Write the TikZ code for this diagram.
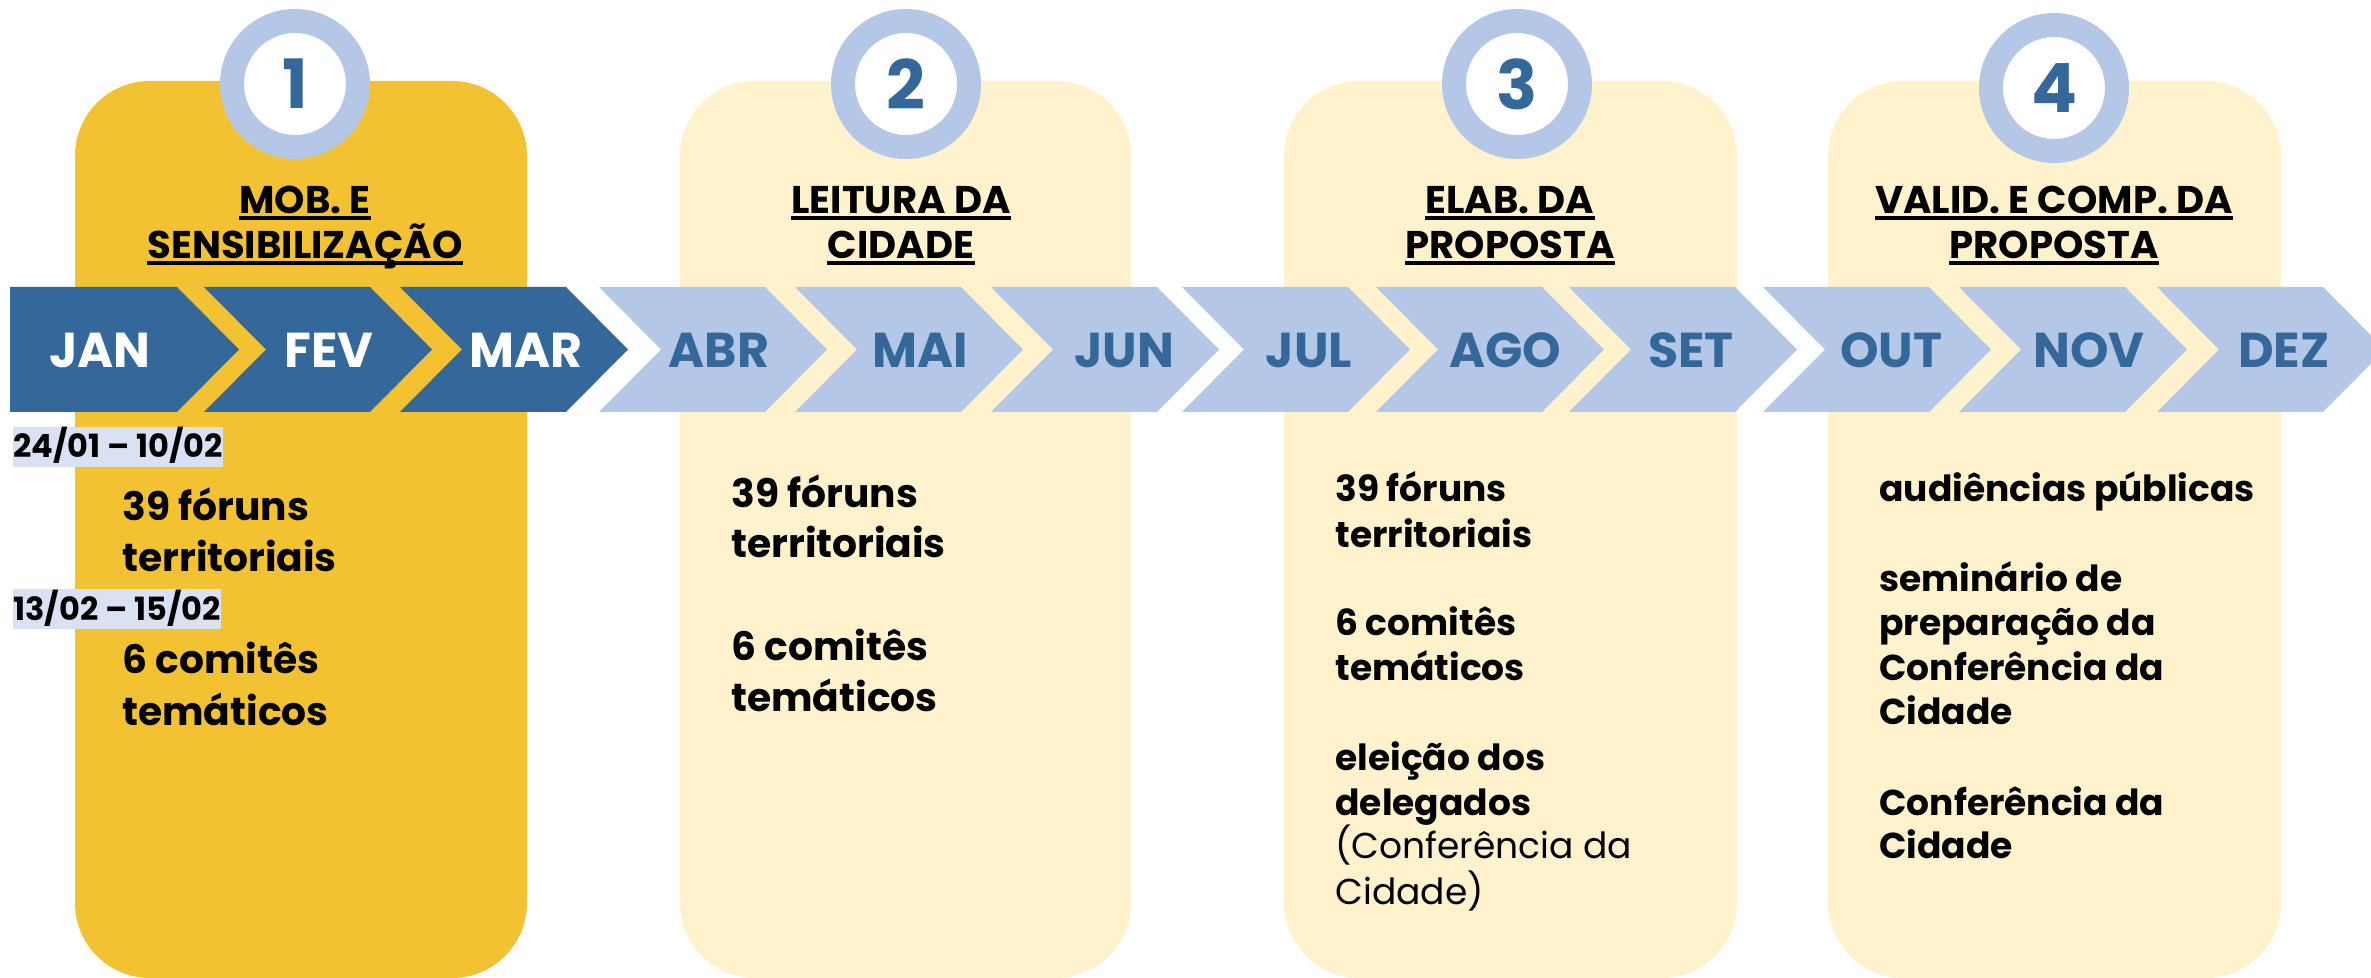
\documentclass[tikz,border=0pt]{standalone}
\usepackage{fontspec}
\setmainfont{Poppins}

\definecolor{gold}{RGB}{242,194,51}
\definecolor{pale}{RGB}{255,242,204}
\definecolor{darkblue}{RGB}{52,103,154}
\definecolor{lightblue}{RGB}{180,199,231}
\definecolor{datebg}{RGB}{217,225,242}

\begin{document}
\begin{tikzpicture}[x=0.5pt,y=-0.5pt]
        \tikzstyle{every node}+=[inner sep=0pt]
        \tikzstyle{ring}=[circle, fill=white, draw=lightblue, line width=12pt, minimum size=63pt, text=darkblue, font=\fontsize{34}{34}\selectfont\bfseries]
        \tikzstyle{monthlab}=[font=\fontsize{24.5}{24.5}\selectfont\bfseries]
        \tikzstyle{titlelab}=[anchor=base, font=\fontsize{19.3}{19.3}\selectfont\bfseries]
        \tikzstyle{bigtxt}=[anchor=base west, font=\fontsize{19.6}{19.6}\selectfont\bfseries]
        \tikzstyle{smalltxt}=[anchor=base west, font=\fontsize{18}{18}\selectfont\bfseries]
        \tikzstyle{datelab}=[anchor=base west, fill=datebg, text height=15.5pt, text depth=4.5pt, font=\fontsize{16}{16}\selectfont\bfseries]
        \tikzstyle{uline}=[line width=1.8pt]
        \useasboundingbox (0,0) rectangle (2371,978);
        % stage panels
        \fill [gold, rounded corners=37.5pt] (75,81) rectangle (527,978);
        \fill [pale, rounded corners=37.5pt] (680,81) rectangle (1131,978);
        \fill [pale, rounded corners=37.5pt] (1284,81) rectangle (1737,978);
        \fill [pale, rounded corners=37.5pt] (1828,81) rectangle (2281,978);
        % stage numbers
        \node [ring] (n1) at (295,84) {1};
        \node [ring] (n2) at (906,84) {2};
        \node [ring] (n3) at (1517,84) {3};
        \node [ring] (n4) at (2054,88) {4};
        % months
        \fill [darkblue] (10,287) -- (177,287) -- (239,349.5) -- (177,412) -- (10,412) -- cycle;
        \fill [darkblue] (204,287) -- ++(166,0) -- ++(62,62.5) -- ++(-62,62.5) -- ++(-166,0) -- ++(62,-62.5) -- cycle;
        \fill [darkblue] (400,287) -- ++(166,0) -- ++(62,62.5) -- ++(-62,62.5) -- ++(-166,0) -- ++(62,-62.5) -- cycle;
        \fill [lightblue] (599,287) -- ++(166,0) -- ++(62,62.5) -- ++(-62,62.5) -- ++(-166,0) -- ++(62,-62.5) -- cycle;
        \fill [lightblue] (795,287) -- ++(166,0) -- ++(62,62.5) -- ++(-62,62.5) -- ++(-166,0) -- ++(62,-62.5) -- cycle;
        \fill [lightblue] (991,287) -- ++(166,0) -- ++(62,62.5) -- ++(-62,62.5) -- ++(-166,0) -- ++(62,-62.5) -- cycle;
        \fill [lightblue] (1182,287) -- ++(166,0) -- ++(62,62.5) -- ++(-62,62.5) -- ++(-166,0) -- ++(62,-62.5) -- cycle;
        \fill [lightblue] (1376,287) -- ++(166,0) -- ++(62,62.5) -- ++(-62,62.5) -- ++(-166,0) -- ++(62,-62.5) -- cycle;
        \fill [lightblue] (1569,287) -- ++(166,0) -- ++(62,62.5) -- ++(-62,62.5) -- ++(-166,0) -- ++(62,-62.5) -- cycle;
        \fill [lightblue] (1763,287) -- ++(166,0) -- ++(62,62.5) -- ++(-62,62.5) -- ++(-166,0) -- ++(62,-62.5) -- cycle;
        \fill [lightblue] (1959,287) -- ++(166,0) -- ++(62,62.5) -- ++(-62,62.5) -- ++(-166,0) -- ++(62,-62.5) -- cycle;
        \fill [lightblue] (2157,287) -- ++(166,0) -- ++(62,62.5) -- ++(-62,62.5) -- ++(-166,0) -- ++(62,-62.5) -- cycle;
        \node [monthlab, text=white] (jan) at (100,350) {JAN};
        \node [monthlab, text=white] (fev) at (329,350) {FEV};
        \node [monthlab, text=white] (mar) at (526,350) {MAR};
        \node [monthlab, text=darkblue] (abr) at (719,350) {ABR};
        \node [monthlab, text=darkblue] (mai) at (920,350) {MAI};
        \node [monthlab, text=darkblue] (jun) at (1124,350) {JUN};
        \node [monthlab, text=darkblue] (jul) at (1309,350) {JUL};
        \node [monthlab, text=darkblue] (ago) at (1505,350) {AGO};
        \node [monthlab, text=darkblue] (set) at (1691,350) {SET};
        \node [monthlab, text=darkblue] (out) at (1891,350) {OUT};
        \node [monthlab, text=darkblue] (nov) at (2089,350) {NOV};
        \node [monthlab, text=darkblue] (dez) at (2284,350) {DEZ};
        % titles
        \node [titlelab] (t1a) at (305,214) {MOB. E};
        \node [titlelab] (t1b) at (305,259) {SENSIBILIZAÇÃO};
        \node [titlelab] (t2a) at (901,214) {LEITURA DA};
        \node [titlelab] (t2b) at (901,259) {CIDADE};
        \node [titlelab] (t3a) at (1510,214) {ELAB. DA};
        \node [titlelab] (t3b) at (1510,259) {PROPOSTA};
        \node [titlelab] (t4a) at (2054,214) {VALID. E COMP. DA};
        \node [titlelab] (t4b) at (2054,259) {PROPOSTA};
        \draw [uline] ([yshift=-2pt]t1a.base west) -- ([yshift=-2pt]t1a.base east);
        \draw [uline] ([yshift=-2pt]t1b.base west) -- ([yshift=-2pt]t1b.base east);
        \draw [uline] ([yshift=-2pt]t2a.base west) -- ([yshift=-2pt]t2a.base east);
        \draw [uline] ([yshift=-2pt]t2b.base west) -- ([yshift=-2pt]t2b.base east);
        \draw [uline] ([yshift=-2pt]t3a.base west) -- ([yshift=-2pt]t3a.base east);
        \draw [uline] ([yshift=-2pt]t3b.base west) -- ([yshift=-2pt]t3b.base east);
        \draw [uline] ([yshift=-2pt]t4a.base west) -- ([yshift=-2pt]t4a.base east);
        \draw [uline] ([yshift=-2pt]t4b.base west) -- ([yshift=-2pt]t4b.base east);
        % stage 1
        \node [datelab] (d1) at (13,458) {24/01 – 10/02};
        \node [bigtxt] (s1a) at (122,520) {39 fóruns};
        \node [bigtxt] (s1b) at (122,571.7) {territoriais};
        \node [datelab] (d2) at (13,620) {13/02 – 15/02};
        \node [bigtxt] (s1c) at (122,673.5) {6 comitês};
        \node [bigtxt] (s1d) at (122,725) {temáticos};
        % stage 2
        \node [bigtxt] (s2a) at (731,507) {39 fóruns};
        \node [bigtxt] (s2b) at (731,557) {territoriais};
        \node [bigtxt] (s2c) at (731,660) {6 comitês};
        \node [bigtxt] (s2d) at (731,711) {temáticos};
        % stage 3
        \node [smalltxt] (s3a) at (1335,502) {39 fóruns};
        \node [smalltxt] (s3b) at (1335,547) {territoriais};
        \node [smalltxt] (s3c) at (1335,635) {6 comitês};
        \node [smalltxt] (s3d) at (1335,680) {temáticos};
        \node [smalltxt] (s3e) at (1335,770.5) {eleição dos};
        \node [smalltxt] (s3f) at (1335,815) {delegados};
        \node [smalltxt, font=\fontsize{18}{18}\selectfont] (s3g) at (1335,858) {(Conferência da};
        \node [smalltxt, font=\fontsize{18}{18}\selectfont] (s3h) at (1335,904) {Cidade)};
        % stage 4
        \node [smalltxt] (s4a) at (1879,502) {audiências públicas};
        \node [smalltxt] (s4b) at (1879,591) {seminário de};
        \node [smalltxt] (s4c) at (1879,635) {preparação da};
        \node [smalltxt] (s4d) at (1879,680) {Conferência da};
        \node [smalltxt] (s4e) at (1879,724) {Cidade};
        \node [smalltxt] (s4f) at (1879,815) {Conferência da};
        \node [smalltxt] (s4g) at (1879,858) {Cidade};
\end{tikzpicture}
\end{document}
